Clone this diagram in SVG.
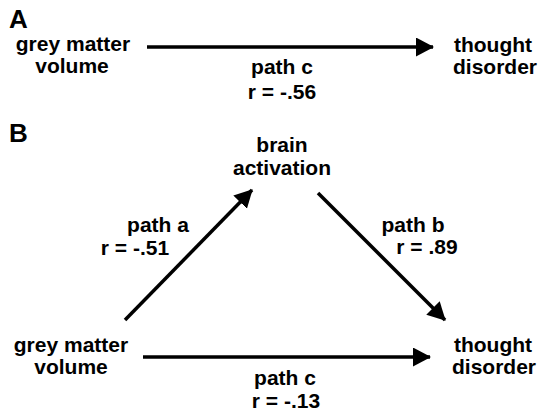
<svg xmlns="http://www.w3.org/2000/svg" width="541" height="413" viewBox="0 0 541 413">
<defs>
<style>
text{font-family:"Liberation Sans",Arial,sans-serif;font-weight:bold;fill:#000;}
.n{font-size:21px;text-anchor:middle;}
.p{font-size:26px;}
.c{stroke:#000;stroke-width:3.5;fill:none;}
</style>
<marker id="ah" markerUnits="userSpaceOnUse" markerWidth="19" markerHeight="20" refX="17" refY="9.5" orient="auto">
<path d="M0,0 L18,9.5 L0,19 Z" fill="#000"/>
</marker>
</defs>
<rect width="541" height="413" fill="#fff"/>
<text class="p" x="9" y="28">A</text>
<text class="p" x="9" y="142">B</text>
<g id="a-gmv"><text class="n" x="73" y="51">grey matter</text><text class="n" x="72" y="73">volume</text></g>
<g id="a-td"><text class="n" x="493" y="52">thought</text><text class="n" x="495" y="74">disorder</text></g>
<g id="b-ba"><text class="n" x="282" y="152">brain</text><text class="n" x="282" y="175">activation</text></g>
<g id="b-gmv"><text class="n" x="71" y="352">grey matter</text><text class="n" x="71" y="374">volume</text></g>
<g id="b-td"><text class="n" x="493" y="352">thought</text><text class="n" x="494" y="374">disorder</text></g>
<g id="connectors">
<line class="c" x1="147" y1="47" x2="433" y2="47" marker-end="url(#ah)"/>
<line class="c" x1="125" y1="320" x2="252" y2="190" marker-end="url(#ah)"/>
<line class="c" x1="318" y1="193" x2="445" y2="320" marker-end="url(#ah)"/>
<line class="c" x1="143" y1="357" x2="430" y2="357" marker-end="url(#ah)"/>
</g>
<g id="labels">
<text class="n" x="282" y="74">path c</text>
<text class="n" x="282" y="99">r = -.56</text>
<text class="n" x="158" y="232">path a</text>
<text class="n" x="135" y="255">r = -.51</text>
<text class="n" x="413" y="232">path b</text>
<text class="n" x="427" y="254">r = .89</text>
<text class="n" x="285" y="385">path c</text>
<text class="n" x="286" y="408">r = -.13</text>
</g>
</svg>
